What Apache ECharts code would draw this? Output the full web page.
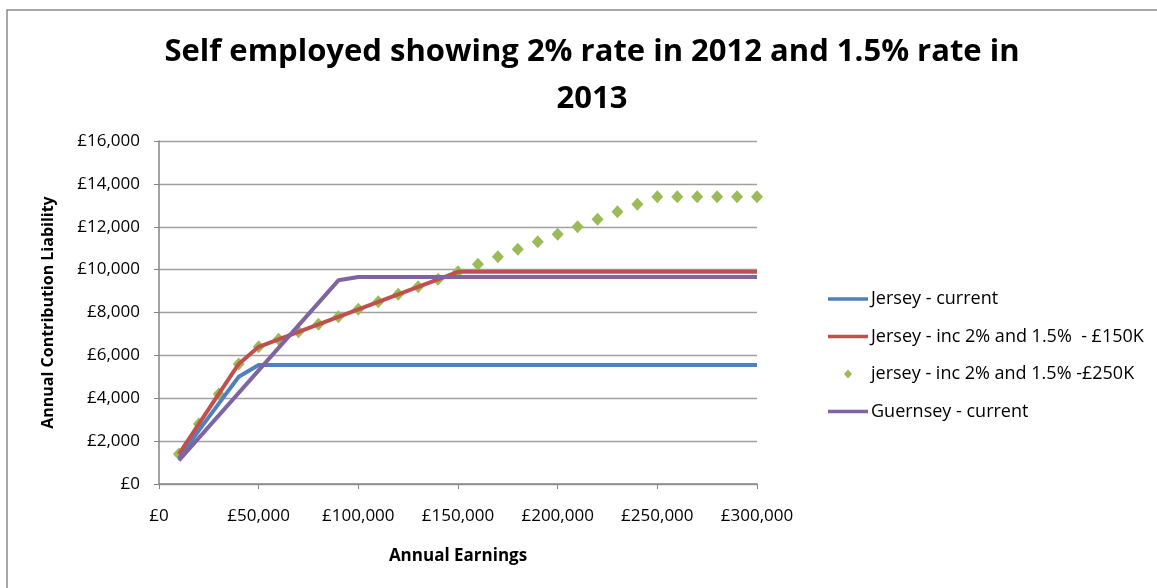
<!DOCTYPE html>
<html><head><meta charset="utf-8">
<script src="https://cdn.jsdelivr.net/npm/echarts@6/dist/echarts.min.js"></script>
<style>html,body{margin:0;padding:0;background:#fff}#c{width:1157px;height:588px}</style>
</head><body><div id="c"></div>
<script>
const earnings = [10000,20000,30000,40000,50000,60000,70000,80000,90000,100000,110000,120000,130000,140000,150000,160000,170000,180000,190000,200000,210000,220000,230000,240000,250000,260000,270000,280000,290000,300000];
const jerseyCurrent = [1200,2500,3750,5000,5550,5550,5550,5550,5550,5550,5550,5550,5550,5550,5550,5550,5550,5550,5550,5550,5550,5550,5550,5550,5550,5550,5550,5550,5550,5550];
const jersey150 = [1400,2800,4200,5600,6400,6750,7100,7450,7800,8150,8500,8850,9200,9550,9900,9900,9900,9900,9900,9900,9900,9900,9900,9900,9900,9900,9900,9900,9900,9900];
const jersey250 = [1400,2800,4200,5600,6400,6750,7100,7450,7800,8150,8500,8850,9200,9550,9900,10250,10600,10950,11300,11650,12000,12350,12700,13050,13400,13400,13400,13400,13400,13400];
const guernsey = [1100,2150,3200,4250,5300,6350,7400,8450,9500,9660,9660,9660,9660,9660,9660,9660,9660,9660,9660,9660,9660,9660,9660,9660,9660,9660,9660,9660,9660,9660];
const seriesNames = ['Jersey - current','Jersey - inc 2% and 1.5%  - £150K','jersey - inc 2% and 1.5% -£250K','Guernsey - current'];
const seriesColors = ['#4F81BD','#C0504D','#9BBB59','#8064A2'];
const titleText = 'Self employed showing 2% rate in 2012 and 1.5% rate in\n2013';

const pair = arr => earnings.map((x,i)=>[x,arr[i]]);
const fmt = v => '£' + v.toLocaleString('en-GB');
const FONT = '"Open Sans", "Noto Sans", sans-serif';

// custom legend (line swatch / diamond swatch + text)
const legendGraphics = [];
const lgX = 828, lgY0 = 299, lgStep = 37.5;
seriesNames.forEach((name, i) => {
  const y = lgY0 + i * lgStep;
  if (i === 2) {
    const cx = lgX + 20;
    legendGraphics.push({type:'polygon', shape:{points:[[cx,y-4.5],[cx+4,y],[cx,y+4.5],[cx-4,y]]}, style:{fill:seriesColors[i]}});
  } else {
    legendGraphics.push({type:'line', shape:{x1:lgX, y1:y, x2:lgX+40, y2:y}, style:{stroke:seriesColors[i], lineWidth:3.5}});
  }
  legendGraphics.push({type:'text', x:lgX+43, y:y, style:{text:name, fill:'#000', font:'18px ' + FONT, verticalAlign:'middle'}});
});

const chart = echarts.init(document.getElementById('c'));
chart.setOption({
  animation:false,
  backgroundColor:'#fff',
  graphic:[{type:'rect',shape:{x:7,y:10,width:1160,height:600},style:{fill:'none',stroke:'#8a8a8a',lineWidth:1.5}}].concat(legendGraphics),
  title:{text:titleText,left:587,textAlign:'center',top:24,textStyle:{fontFamily:FONT,fontWeight:'bold',fontSize:31,color:'#000',lineHeight:47}},
  grid:{left:159,right:400,top:141,bottom:104},
  xAxis:{type:'value',min:0,max:300000,interval:50000,
    axisLine:{lineStyle:{color:'#868686',width:1.5}},axisTick:{show:true,length:5,lineStyle:{color:'#868686'}},
    splitLine:{show:false},
    axisLabel:{formatter:fmt,fontFamily:FONT,fontSize:17,color:'#000',margin:24},
    name:'Annual Earnings',nameLocation:'middle',nameGap:64,nameTextStyle:{fontFamily:FONT,fontWeight:'bold',fontSize:17,color:'#000'}},
  yAxis:{type:'value',min:0,max:16000,interval:2000,
    axisLine:{show:true,lineStyle:{color:'#868686',width:1.5}},axisTick:{show:true,length:5,lineStyle:{color:'#868686'}},
    splitLine:{lineStyle:{color:'#a0a0a0',width:1.3}},
    axisLabel:{formatter:fmt,fontFamily:FONT,fontSize:17,color:'#000',margin:19},
    name:'Annual Contribution Liability',nameLocation:'middle',nameGap:103,nameRotate:90,nameTextStyle:{fontFamily:FONT,fontWeight:'bold',fontSize:16,color:'#000'}},
  series:[
    {name:seriesNames[0],type:'line',data:pair(jerseyCurrent),symbol:'none',lineStyle:{color:seriesColors[0],width:4},itemStyle:{color:seriesColors[0]}},
    {name:seriesNames[1],type:'line',data:pair(jersey150),symbol:'none',lineStyle:{color:seriesColors[1],width:4},itemStyle:{color:seriesColors[1]}},
    {name:seriesNames[2],type:'scatter',data:pair(jersey250),symbol:'diamond',symbolSize:[12,13],itemStyle:{color:seriesColors[2],opacity:1}},
    {name:seriesNames[3],type:'line',data:pair(guernsey),symbol:'none',lineStyle:{color:seriesColors[3],width:4},itemStyle:{color:seriesColors[3]}}
  ]
});
</script></body></html>
